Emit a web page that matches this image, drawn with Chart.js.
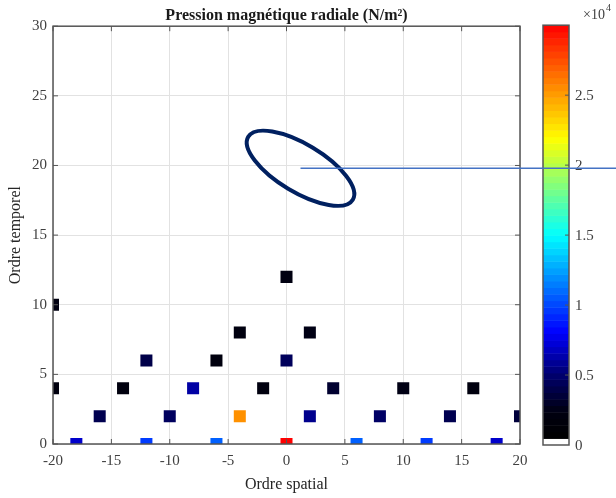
<!DOCTYPE html>
<html lang="fr">
<head>
<meta charset="utf-8">
<title>Pression magnétique radiale</title>
<script src="https://cdn.jsdelivr.net/npm/chart.js"></script>
<style>
  html, body { margin: 0; padding: 0; background: #fff; }
</style>
</head>
<body>
<canvas id="pression" width="616" height="498"></canvas>
<script>
// harmoniques : ordre spatial, ordre temporel, amplitude (N/m2)
const ordreSpatial  = [-18, -12, -6, 0, 6, 12, 18,
                       -16, -10, -4, 2, 8, 14, 20,
                       -20, -14, -8, -2, 4, 10, 16,
                       -12, -6, 0,
                       -4, 2,
                       -20,
                       0];
const ordreTemporel = [0, 0, 0, 0, 0, 0, 0,
                       2, 2, 2, 2, 2, 2, 2,
                       4, 4, 4, 4, 4, 4, 4,
                       6, 6, 6,
                       8, 8,
                       10,
                       12];
const pression      = [7000, 9700, 10700, 30000, 10700, 9700, 7000,
                       4200, 4600, 25400, 5700, 4800, 4200, 3600,
                       2200, 2200, 6200, 2300, 3300, 2500, 2200,
                       4000, 2200, 4500,
                       2300, 2500,
                       2400,
                       2400];

// barre de couleur
const cbMin = 0;
const cbMax = 30000;
const cbTicks  = [0, 5000, 10000, 15000, 20000, 25000];
const cbLabels = ['0', '0.5', '1', '1.5', '2', '2.5'];

// palette (position relative, couleur)
const paletteStops = [
  [0.000, [255, 255, 255]],
  [0.015, [255, 255, 255]],
  [0.016, [0, 0, 0]],
  [0.080, [0, 0, 16]],
  [0.170, [0, 0, 112]],
  [0.270, [0, 0, 255]],
  [0.500, [0, 255, 255]],
  [0.730, [255, 255, 0]],
  [1.000, [255, 0, 0]]
];

function palette(v) {
  let t = (v - cbMin) / (cbMax - cbMin);
  t = Math.max(0, Math.min(1, t));
  for (let i = 1; i < paletteStops.length; i++) {
    const [t1, c1] = paletteStops[i];
    const [t0, c0] = paletteStops[i - 1];
    if (t <= t1) {
      const f = t1 === t0 ? 0 : (t - t0) / (t1 - t0);
      const c = c0.map((a, k) => Math.round(a + (c1[k] - a) * f));
      return 'rgb(' + c.join(',') + ')';
    }
  }
  return 'rgb(255,0,0)';
}

const points = ordreSpatial.map((x, i) => ({ x: x, y: ordreTemporel[i] }));
const couleurs = pression.map(palette);

const serif = 'Liberation Serif';
const gris = '#404040';
const cadreCouleur = '#555555';

// cadre complet et graduations vers l'intérieur
const cadre = {
  id: 'cadre',
  afterDatasetsDraw(chart) {
    const { ctx, chartArea: a, scales } = chart;
    ctx.save();
    ctx.strokeStyle = cadreCouleur;
    ctx.lineWidth = 1.5;
    ctx.strokeRect(a.left, a.top, a.right - a.left, a.bottom - a.top);
    ctx.lineWidth = 1;
    ctx.beginPath();
    scales.x.ticks.forEach(t => {
      const px = scales.x.getPixelForValue(t.value);
      ctx.moveTo(px, a.bottom); ctx.lineTo(px, a.bottom - 5);
      ctx.moveTo(px, a.top); ctx.lineTo(px, a.top + 5);
    });
    scales.y.ticks.forEach(t => {
      const py = scales.y.getPixelForValue(t.value);
      ctx.moveTo(a.left, py); ctx.lineTo(a.left + 5, py);
      ctx.moveTo(a.right, py); ctx.lineTo(a.right - 5, py);
    });
    ctx.stroke();
    ctx.restore();
  }
};

// barre de couleur à droite des axes
const barreCouleur = {
  id: 'barreCouleur',
  afterDraw(chart) {
    const { ctx, chartArea: a } = chart;
    const x0 = a.right + 23, w = 26;
    const top = a.top - 1, bottom = a.bottom + 1;
    const h = bottom - top;
    const yOf = v => bottom - (v - cbMin) / (cbMax - cbMin) * h;
    ctx.save();
    const n = 64;
    for (let i = 0; i < n; i++) {
      const v0 = cbMin + (cbMax - cbMin) * i / n;
      const v1 = cbMin + (cbMax - cbMin) * (i + 1) / n;
      ctx.fillStyle = palette((v0 + v1) / 2);
      const yTop = yOf(v1), yBot = yOf(v0);
      ctx.fillRect(x0, yTop, w, yBot - yTop + 0.5);
    }
    ctx.fillStyle = '#ffffff';
    ctx.fillRect(x0, bottom - 6, w, 6);
    ctx.strokeStyle = cadreCouleur;
    ctx.lineWidth = 1.5;
    ctx.strokeRect(x0, top, w, h);
    ctx.lineWidth = 1;
    ctx.beginPath();
    cbTicks.forEach(v => {
      if (v === cbMin) return;
      ctx.moveTo(x0 + w, yOf(v)); ctx.lineTo(x0 + w - 4, yOf(v));
    });
    ctx.stroke();
    ctx.fillStyle = gris;
    ctx.font = '15px "' + serif + '"';
    ctx.textAlign = 'left';
    ctx.textBaseline = 'middle';
    cbTicks.forEach((v, i) => ctx.fillText(cbLabels[i], x0 + w + 6, yOf(v) + 1));
    // facteur d'échelle
    ctx.font = '14px "' + serif + '"';
    ctx.fillText('×10', x0 + 40, 15);
    const wx = ctx.measureText('×10').width;
    ctx.font = '10px "' + serif + '"';
    ctx.fillText('4', x0 + 41 + wx, 8);
    ctx.restore();
  }
};

// ellipse autour de l'harmonique et trait de renvoi
const repere = { x: 1.2, y: 19.8, rx: 61, ry: 24, angle: 31 };
const annotation = {
  id: 'annotation',
  afterDraw(chart) {
    const { ctx, scales } = chart;
    const cx = scales.x.getPixelForValue(repere.x);
    const cy = scales.y.getPixelForValue(repere.y);
    ctx.save();
    ctx.strokeStyle = '#002060';
    ctx.lineWidth = 4;
    ctx.beginPath();
    ctx.ellipse(cx, cy, repere.rx, repere.ry, repere.angle * Math.PI / 180, 0, 2 * Math.PI);
    ctx.stroke();
    ctx.strokeStyle = '#4472c4';
    ctx.lineWidth = 1.5;
    ctx.beginPath();
    ctx.moveTo(cx, cy);
    ctx.lineTo(chart.width, cy);
    ctx.stroke();
    ctx.restore();
  }
};

new Chart(document.getElementById('pression'), {
  type: 'scatter',
  data: {
    datasets: [{
      data: points,
      pointStyle: 'rect',
      pointRadius: 8.5,
      pointBackgroundColor: couleurs,
      pointBorderColor: couleurs,
      pointBorderWidth: 0,
      clip: 0
    }]
  },
  options: {
    responsive: false,
    animation: false,
    events: [],
    layout: { padding: { left: 0, right: 96, top: 0, bottom: 0 } },
    plugins: {
      legend: { display: false },
      tooltip: { enabled: false },
      title: {
        display: true,
        fullSize: false,
        text: 'Pression magnétique radiale (N/m²)',
        color: '#1a1a1a',
        font: { family: serif, size: 16, weight: 'bold' },
        padding: { top: 6, bottom: 1 }
      }
    },
    scales: {
      x: {
        type: 'linear',
        min: -20, max: 20,
        ticks: { stepSize: 5, color: gris, padding: 8, font: { family: serif, size: 15 } },
        grid: { color: '#e2e2e2', drawTicks: false },
        border: { display: false },
        title: {
          display: true, text: 'Ordre spatial', color: '#262626',
          font: { family: serif, size: 16 }, padding: { top: 0, bottom: 4 }
        },
        afterFit(scale) { scale.height = 54; }
      },
      y: {
        type: 'linear',
        min: 0, max: 30,
        ticks: { stepSize: 5, color: gris, padding: 6, font: { family: serif, size: 15 } },
        grid: { color: '#e2e2e2', drawTicks: false },
        border: { display: false },
        title: {
          display: true, text: 'Ordre temporel', color: '#262626',
          font: { family: serif, size: 16 }, padding: { top: 6, bottom: 0 }
        },
        afterFit(scale) { scale.width = 53; }
      }
    }
  },
  plugins: [cadre, barreCouleur, annotation]
});
</script>
</body>
</html>
